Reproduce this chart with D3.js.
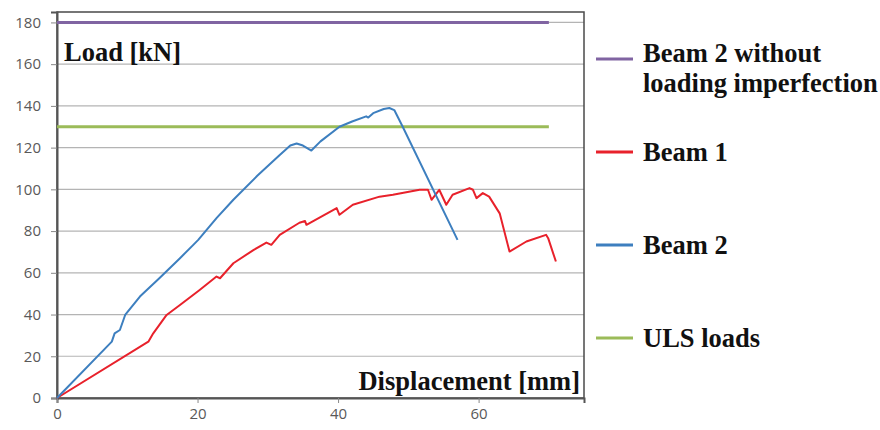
<!DOCTYPE html>
<html lang="en">
<head>
<meta charset="UTF-8">
<title>Load - displacement</title>
<style>
  body { margin: 0; padding: 0; background: #fff; }
  svg { display: block; }
  .tick text { font-family: "Open Sans", sans-serif; font-size: 15px; fill: #595959; }
  .lbl { font-family: "Liberation Serif", "Times New Roman", serif; font-weight: bold; font-size: 26.5px; fill: #111; }
</style>
<script src="https://d3js.org/d3.v7.min.js"></script>
</head>
<body>
<div id="chart"></div>
<script>
// values
const xTicks = [0, 20, 40, 60];
const yTicks = [0, 20, 40, 60, 80, 100, 120, 140, 160, 180];

const beam1X = [0, 13.0, 13.7, 15.6, 17.5, 20.3, 22.7, 23.2, 25.1, 28.0, 29.8, 30.5, 31.7, 34.5, 35.3, 35.5, 39.8, 40.2, 42.1, 45.9, 47.8, 51.6, 52.8, 53.3, 54.4, 55.4, 56.3, 58.7, 59.2, 59.7, 60.6, 61.5, 63.0, 64.4, 66.8, 69.6, 69.9, 71.0];
const beam1Y = [0, 27.0, 31.0, 39.8, 44.6, 51.8, 58.2, 57.4, 64.6, 71.0, 74.5, 73.4, 78.2, 84.0, 84.8, 83.0, 91.0, 87.8, 92.6, 96.5, 97.4, 99.8, 99.8, 95.0, 99.8, 92.6, 97.4, 100.6, 99.8, 95.8, 98.2, 96.5, 88.5, 70.2, 75.0, 78.2, 76.6, 65.4];

const beam2X = [0, 7.8, 8.2, 8.95, 9.7, 11.8, 14.6, 17.5, 19.4, 20.1, 22.7, 25.1, 28.5, 31.7, 33.2, 34.1, 35.0, 36.2, 37.5, 40.2, 42.0, 44.0, 44.3, 45.0, 46.5, 47.3, 48.0, 49.2, 57.0];
const beam2Y = [0, 27.0, 31.0, 32.6, 39.8, 48.6, 57.5, 67.0, 73.4, 75.8, 86.2, 95.0, 106.5, 116.5, 121.0, 122.0, 121.0, 118.6, 123.0, 130.0, 132.5, 135.0, 134.4, 136.5, 138.5, 139.0, 138.0, 130.0, 75.8];

const beam2NoImperfection = 180; // kN, constant
const ulsLoad = 130;             // kN, constant
const refLineX = [0, 70];

const legendNames = [["Beam 2 without", "loading imperfection"], ["Beam 1"], ["Beam 2"], ["ULS loads"]];
const legendColors = ["#8064a2", "#e8212b", "#3d7fbf", "#9bbb59"];

const width = 880, height = 430;
const svg = d3.select("#chart").append("svg")
  .attr("width", width)
  .attr("height", height);

const x = d3.scaleLinear().domain([0, 75]).range([57, 584]);
const y = d3.scaleLinear().domain([0, 185]).range([398, 12]);

// grid
svg.append("g")
  .selectAll("line")
  .data(yTicks.filter(d => d > 0))
  .join("line")
  .attr("x1", x(0)).attr("x2", x(75))
  .attr("y1", d => y(d)).attr("y2", d => y(d))
  .attr("stroke", "#b4b4b4")
  .attr("stroke-width", 1.2);

// frame
svg.append("rect")
  .attr("x", x(0)).attr("y", y(185))
  .attr("width", x(75) - x(0)).attr("height", y(0) - y(185))
  .attr("fill", "none")
  .attr("stroke", "#4a4a4a")
  .attr("stroke-width", 1.5);

// axes
const yAxis = svg.append("g")
  .attr("transform", `translate(${x(0)},0)`)
  .call(d3.axisLeft(y).tickValues(yTicks).tickSize(6).tickPadding(10));
yAxis.select(".domain").attr("stroke", "#555").attr("stroke-width", 2);
yAxis.selectAll(".tick line").attr("stroke", "#888");

const xAxis = svg.append("g")
  .attr("transform", `translate(0,${y(0)})`)
  .call(d3.axisBottom(x).tickValues(xTicks).tickSize(5).tickPadding(5));
xAxis.select(".domain").attr("stroke", "#555").attr("stroke-width", 2);
xAxis.selectAll(".tick line").attr("stroke", "#888");

// horizontal reference lines
const line = d3.line().x(d => x(d[0])).y(d => y(d[1]));
svg.append("path")
  .datum(refLineX.map(v => [v, beam2NoImperfection]))
  .attr("d", line).attr("fill", "none")
  .attr("stroke", legendColors[0]).attr("stroke-width", 3);
svg.append("path")
  .datum(refLineX.map(v => [v, ulsLoad]))
  .attr("d", line).attr("fill", "none")
  .attr("stroke", legendColors[3]).attr("stroke-width", 3);

// curves
svg.append("path")
  .datum(beam1X.map((v, i) => [v, beam1Y[i]]))
  .attr("d", line).attr("fill", "none")
  .attr("stroke", legendColors[1]).attr("stroke-width", 2)
  .attr("stroke-linejoin", "round");
svg.append("path")
  .datum(beam2X.map((v, i) => [v, beam2Y[i]]))
  .attr("d", line).attr("fill", "none")
  .attr("stroke", legendColors[2]).attr("stroke-width", 2)
  .attr("stroke-linejoin", "round");

// axis titles inside the plot
svg.append("text").attr("class", "lbl")
  .attr("x", 64).attr("y", 61).text("Load [kN]");
svg.append("text").attr("class", "lbl")
  .attr("x", 580).attr("y", 390).attr("text-anchor", "end")
  .text("Displacement [mm]");

// legend
const legendY = [59, 152, 245, 338];
const legend = svg.append("g");
legendNames.forEach((lines, i) => {
  legend.append("line")
    .attr("x1", 596).attr("x2", 633)
    .attr("y1", legendY[i]).attr("y2", legendY[i])
    .attr("stroke", legendColors[i]).attr("stroke-width", 3);
  const t = legend.append("text").attr("class", "lbl")
    .attr("x", 643).attr("y", legendY[i] + (lines.length > 1 ? 3 : 9));
  lines.forEach((s, j) => {
    t.append("tspan").attr("x", 643).attr("dy", j === 0 ? 0 : 29.5).text(s);
  });
});
</script>
</body>
</html>
